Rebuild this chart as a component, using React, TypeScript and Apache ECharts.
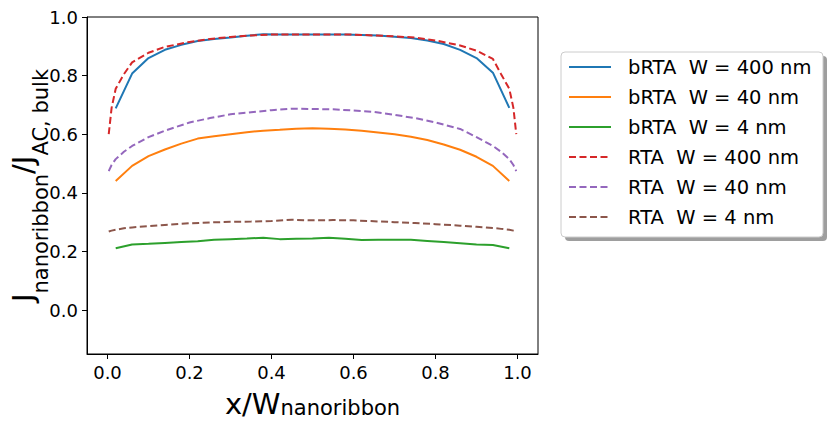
import React, { useEffect, useRef } from "react";
import * as echarts from "echarts";

// x positions (fraction of nanoribbon width)
const brtaX = [0.02, 0.06, 0.10, 0.14, 0.18, 0.22, 0.26, 0.30, 0.34, 0.38, 0.42, 0.46, 0.50, 0.54, 0.58, 0.62, 0.66, 0.70, 0.74, 0.78, 0.82, 0.86, 0.90, 0.94, 0.98];
const rtaX = [0.003, 0.01, 0.02, 0.04, 0.06, 0.10, 0.14, 0.20, 0.25, 0.30, 0.35, 0.40, 0.45, 0.50, 0.55, 0.60, 0.65, 0.70, 0.75, 0.80, 0.86, 0.90, 0.94, 0.96, 0.98, 0.99, 0.997];

// bRTA series (solid)
const brta400 = [0.688, 0.807, 0.860, 0.888, 0.905, 0.918, 0.925, 0.930, 0.936, 0.941, 0.940, 0.940, 0.940, 0.940, 0.940, 0.939, 0.937, 0.933, 0.928, 0.920, 0.908, 0.888, 0.860, 0.810, 0.690];
const brta40 = [0.440, 0.492, 0.525, 0.548, 0.568, 0.585, 0.593, 0.600, 0.607, 0.612, 0.615, 0.619, 0.620, 0.619, 0.616, 0.612, 0.606, 0.600, 0.591, 0.580, 0.565, 0.547, 0.523, 0.492, 0.440];
const brta4 = [0.211, 0.224, 0.226, 0.229, 0.232, 0.235, 0.240, 0.242, 0.244, 0.247, 0.242, 0.243, 0.244, 0.247, 0.243, 0.239, 0.240, 0.240, 0.240, 0.236, 0.232, 0.228, 0.224, 0.222, 0.211];

// RTA series (dashed)
const rta400 = [0.600, 0.690, 0.755, 0.805, 0.845, 0.878, 0.898, 0.915, 0.925, 0.932, 0.937, 0.940, 0.940, 0.940, 0.940, 0.940, 0.937, 0.934, 0.930, 0.920, 0.903, 0.885, 0.857, 0.805, 0.755, 0.690, 0.600];
const rta40 = [0.474, 0.495, 0.515, 0.540, 0.560, 0.590, 0.612, 0.640, 0.655, 0.668, 0.675, 0.682, 0.687, 0.686, 0.685, 0.681, 0.676, 0.666, 0.655, 0.640, 0.618, 0.590, 0.560, 0.540, 0.515, 0.495, 0.474];
const rta4 = [0.268, 0.271, 0.274, 0.279, 0.282, 0.286, 0.290, 0.296, 0.299, 0.301, 0.302, 0.304, 0.308, 0.306, 0.307, 0.306, 0.303, 0.300, 0.297, 0.293, 0.288, 0.284, 0.280, 0.277, 0.274, 0.271, 0.268];

const seriesNames = [
  "bRTA  W = 400 nm",
  "bRTA  W = 40 nm",
  "bRTA  W = 4 nm",
  "RTA  W = 400 nm",
  "RTA  W = 40 nm",
  "RTA  W = 4 nm",
];
const seriesColors = ["#1f77b4", "#ff7f0e", "#2ca02c", "#d62728", "#9467bd", "#8c564b"];
const tickValues = [0, 0.2, 0.4, 0.6, 0.8, 1.0];

const FONT = "'DejaVu Sans', sans-serif";

export default function App() {
  const ref = useRef<HTMLDivElement>(null);

  useEffect(() => {
    document.body.style.margin = "0";
    const chart = echarts.init(ref.current as HTMLDivElement, null, { renderer: "svg" });

    const defs = [
      { x: brtaX, y: brta400, dashed: false },
      { x: brtaX, y: brta40, dashed: false },
      { x: brtaX, y: brta4, dashed: false },
      { x: rtaX, y: rta400, dashed: true },
      { x: rtaX, y: rta40, dashed: true },
      { x: rtaX, y: rta4, dashed: true },
    ];

    const series = defs.map((d, i) => ({
      name: seriesNames[i],
      type: "line",
      data: d.x.map((x, j) => [x, d.y[j]]),
      symbol: "none",
      showSymbol: false,
      z: 2 + i,
      itemStyle: { color: seriesColors[i] },
      lineStyle: {
        color: seriesColors[i],
        width: 2,
        type: d.dashed ? [7, 3.5] : "solid",
      },
    }));

    const option = {
      animation: false,
      backgroundColor: "#ffffff",
      textStyle: { fontFamily: FONT },
      grid: {
        left: 85,
        top: 17,
        right: 293,
        bottom: 73,
        show: true,
        borderColor: "#000",
        borderWidth: 1,
        backgroundColor: "transparent",
      },
      xAxis: {
        type: "value",
        min: -0.05,
        max: 1.05,
        name: "{m|x/W}{s|nanoribbon}",
        nameLocation: "middle",
        nameGap: 35,
        nameMoveOverlap: false,
        nameTextStyle: {
          color: "#000",
          fontFamily: FONT,
          rich: {
            m: { fontSize: 29, lineHeight: 29, verticalAlign: "top", fontFamily: FONT, color: "#000" },
            s: { fontSize: 21, lineHeight: 14.6, verticalAlign: "bottom", fontFamily: FONT, color: "#000" },
          },
        },
        axisLine: { show: true, onZero: false, lineStyle: { color: "#000", width: 1 } },
        axisTick: { show: true, inside: false, length: 5, customValues: tickValues, lineStyle: { color: "#000", width: 1 } },
        axisLabel: {
          show: true,
          margin: 9,
          customValues: tickValues,
          fontSize: 18,
          fontFamily: FONT,
          color: "#000",
          formatter: (v: number) => v.toFixed(1),
        },
        splitLine: { show: false },
      },
      yAxis: {
        type: "value",
        min: -0.15,
        max: 1.0,
        name: "{m|J}{s|nanoribbon}{m|/J}{s|AC, bulk}",
        nameLocation: "middle",
        nameRotate: 90,
        nameGap: 13,
        nameMoveOverlap: false,
        nameTextStyle: {
          color: "#000",
          fontFamily: FONT,
          rich: {
            m: { fontSize: 29, lineHeight: 29, verticalAlign: "top", fontFamily: FONT, color: "#000" },
            s: { fontSize: 21, lineHeight: 66, verticalAlign: "middle", fontFamily: FONT, color: "#000" },
          },
        },
        axisLine: { show: true, onZero: false, lineStyle: { color: "#000", width: 1 } },
        axisTick: { show: true, inside: false, length: 5, customValues: tickValues, lineStyle: { color: "#000", width: 1 } },
        axisLabel: {
          show: true,
          margin: 9,
          customValues: tickValues,
          fontSize: 18,
          fontFamily: FONT,
          color: "#000",
          formatter: (v: number) => v.toFixed(1),
        },
        splitLine: { show: false },
      },
      legend: {
        show: true,
        orient: "vertical",
        left: 568,
        top: 57,
        padding: 0,
        itemWidth: 42,
        itemHeight: 20,
        itemGap: 10,
        z: 10,
        itemStyle: { opacity: 0 },
        formatter: (name: string) => name.replace("  ", "\u00a0 "),
        textStyle: {
          fontSize: 19.5,
          lineHeight: 20,
          fontFamily: FONT,
          color: "#000",
          padding: [0, 0, 0, 12],
        },
        data: seriesNames,
      },
      graphic: [
        {
          type: "rect",
          z: 1,
          shape: { x: 565, y: 56, width: 262, height: 185, r: 4 },
          style: { fill: "rgba(0,0,0,0.38)" },
        },
        {
          type: "rect",
          z: 1,
          shape: { x: 561, y: 52, width: 262, height: 185, r: 4 },
          style: { fill: "#ffffff", stroke: "#cccccc", lineWidth: 1 },
        },
      ],
      series,
    };

    chart.setOption(option as any);
    return () => chart.dispose();
  }, []);

  return <div ref={ref} style={{ width: 831, height: 427 }} />;
}
